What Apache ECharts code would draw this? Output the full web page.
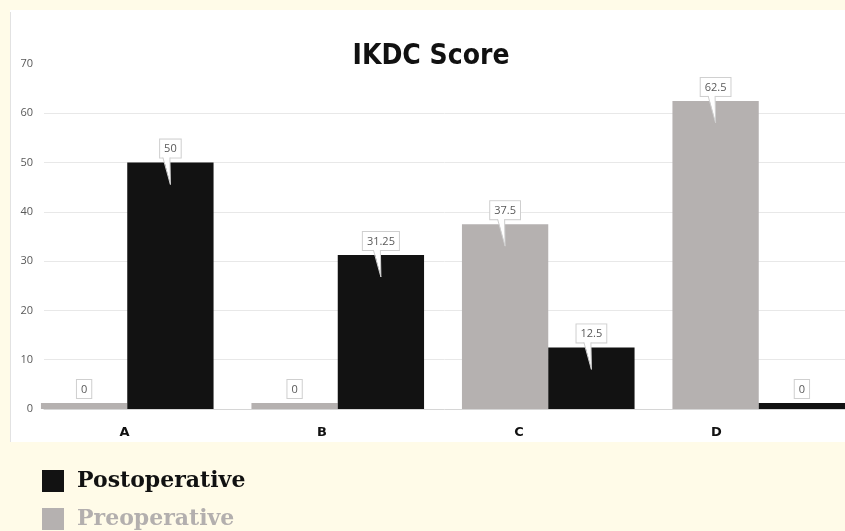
<!DOCTYPE html>
<html>
<head>
<meta charset="utf-8">
<script src="https://cdn.jsdelivr.net/npm/echarts@6/dist/echarts.min.js"></script>
<style>
html,body{margin:0;padding:0;background:#FFFBE8;}
#c{width:845px;height:531px;}
</style>
</head>
<body>
<div id="c"></div>
<script>
const titleText = 'IKDC Score';
const categories = ['A', 'B', 'C', 'D'];
const preoperative = [0, 0, 37.5, 62.5];
const postoperative = [50, 31.25, 12.5, 0];
const yTicks = [0, 10, 20, 30, 40, 50, 60, 70];
const seriesNames = ['Preoperative', 'Postoperative'];

const BAR_FRAC = 0.41;
const MIN_H = 6;

const calloutData = [];
categories.forEach((c, i) => {
  calloutData.push([i, preoperative[i], 0]);
  calloutData.push([i, postoperative[i], 1]);
});

const chart = echarts.init(document.getElementById('c'), null, {renderer: 'canvas'});

const gridTop = 64, gridBottom = 122;
const legendText = {fontFamily: "'DejaVu Serif', serif", fontWeight: 'bold', fontSize: 22, padding: [0, 0, 0, 8]};

chart.setOption({
  backgroundColor: '#FFFBE8',
  animation: false,
  graphic: [
    {type: 'rect', z: -10, shape: {x: 10, y: 10, width: 840, height: 432}, style: {fill: '#ffffff'}},
    {type: 'line', z: -9, shape: {x1: 10.5, y1: 12, x2: 10.5, y2: 442}, style: {stroke: '#e2e2e2', lineWidth: 1}}
  ],
  title: {
    text: titleText,
    left: 426, top: 38, textAlign: 'center',
    textStyle: {fontFamily: "'DejaVu Sans Condensed', sans-serif", fontWeight: 'bold', fontSize: 28, color: '#111'}
  },
  legend: [
    {left: 42, top: 470, padding: 0, itemWidth: 22, itemHeight: 22, icon: 'rect', selectedMode: false,
      data: [{name: seriesNames[1], textStyle: {color: '#111111'}}], textStyle: legendText},
    {left: 42, top: 508, padding: 0, itemWidth: 22, itemHeight: 22, icon: 'rect', selectedMode: false,
      data: [{name: seriesNames[0], textStyle: {color: '#b3afae'}}], textStyle: legendText}
  ],
  grid: [
    {left: 22, width: 842, top: gridTop, bottom: gridBottom, outerBoundsMode: 'none', containLabel: false},
    {left: 44, right: 0, top: gridTop, bottom: gridBottom, outerBoundsMode: 'none', containLabel: false},
    {left: 26, width: 789, top: gridTop, bottom: gridBottom, outerBoundsMode: 'none', containLabel: false}
  ],
  xAxis: [
    {type: 'category', gridIndex: 0, data: categories, show: false},
    {type: 'category', gridIndex: 1, data: categories,
      axisLine: {show: true, lineStyle: {color: '#d6d6d6', width: 1}},
      axisTick: {show: false}, axisLabel: {show: false}},
    {type: 'category', gridIndex: 2, data: categories,
      axisLine: {show: false}, axisTick: {show: false},
      axisLabel: {show: true, margin: 17, color: '#111', fontFamily: "'DejaVu Sans', sans-serif", fontWeight: 'bold', fontSize: 13}}
  ],
  yAxis: [
    {type: 'value', gridIndex: 0, min: yTicks[0], max: yTicks[yTicks.length - 1], interval: 10, show: false},
    {type: 'value', gridIndex: 1, min: yTicks[0], max: yTicks[yTicks.length - 1], interval: 10,
      axisLine: {show: false}, axisTick: {show: false},
      axisLabel: {margin: 11, color: '#595959', fontFamily: "'Open Sans', sans-serif", fontSize: 11},
      splitLine: {show: true, showMinLine: false, showMaxLine: false, lineStyle: {color: '#e8e8e8', width: 1}}},
    {type: 'value', gridIndex: 2, min: 0, max: 70, show: false}
  ],
  series: [
    {name: seriesNames[0], type: 'bar', xAxisIndex: 0, yAxisIndex: 0, data: preoperative,
      barWidth: (BAR_FRAC * 100) + '%', barGap: '0%', barMinHeight: MIN_H,
      itemStyle: {color: '#b5b1b0'}},
    {name: seriesNames[1], type: 'bar', xAxisIndex: 0, yAxisIndex: 0, data: postoperative,
      barWidth: (BAR_FRAC * 100) + '%', barGap: '0%', barMinHeight: MIN_H,
      itemStyle: {color: '#121212'}},
    {type: 'custom', xAxisIndex: 0, yAxisIndex: 0, z: 5, data: calloutData,
      renderItem: function (params, api) {
        const cat = api.value(0), v = api.value(1), s = api.value(2);
        const p = api.coord([cat, v]);
        const band = api.size([1, 0])[0];
        const bw = band * BAR_FRAC;
        const xc = p[0] + (s === 0 ? -bw / 2 : bw / 2);
        const yTop = v === 0 ? p[1] - MIN_H : p[1];
        const boxBottom = yTop - 5;
        const children = [{
          type: 'text', z2: 1,
          style: {
            text: String(v), x: xc, y: boxBottom, align: 'center', verticalAlign: 'bottom',
            fill: '#595959', fontFamily: "'Open Sans', sans-serif", fontSize: 11,
            backgroundColor: '#ffffff', borderColor: '#cfcfcf', borderWidth: 1,
            padding: [4, 4, 3, 4]
          }
        }];
        if (v > 0) {
          const tipY = yTop + 22;
          children.push({type: 'polygon', z2: 2,
            shape: {points: [[xc - 7.5, boxBottom - 1.5], [xc - 0.5, boxBottom - 1.5], [xc, tipY]]},
            style: {fill: '#ffffff'}});
          children.push({type: 'polyline', z2: 3,
            shape: {points: [[xc - 7.5, boxBottom], [xc, tipY], [xc - 0.5, boxBottom]]},
            style: {stroke: '#cfcfcf', lineWidth: 1, fill: null}});
        }
        return {type: 'group', children: children};
      }
    }
  ]
});
</script>
</body>
</html>
